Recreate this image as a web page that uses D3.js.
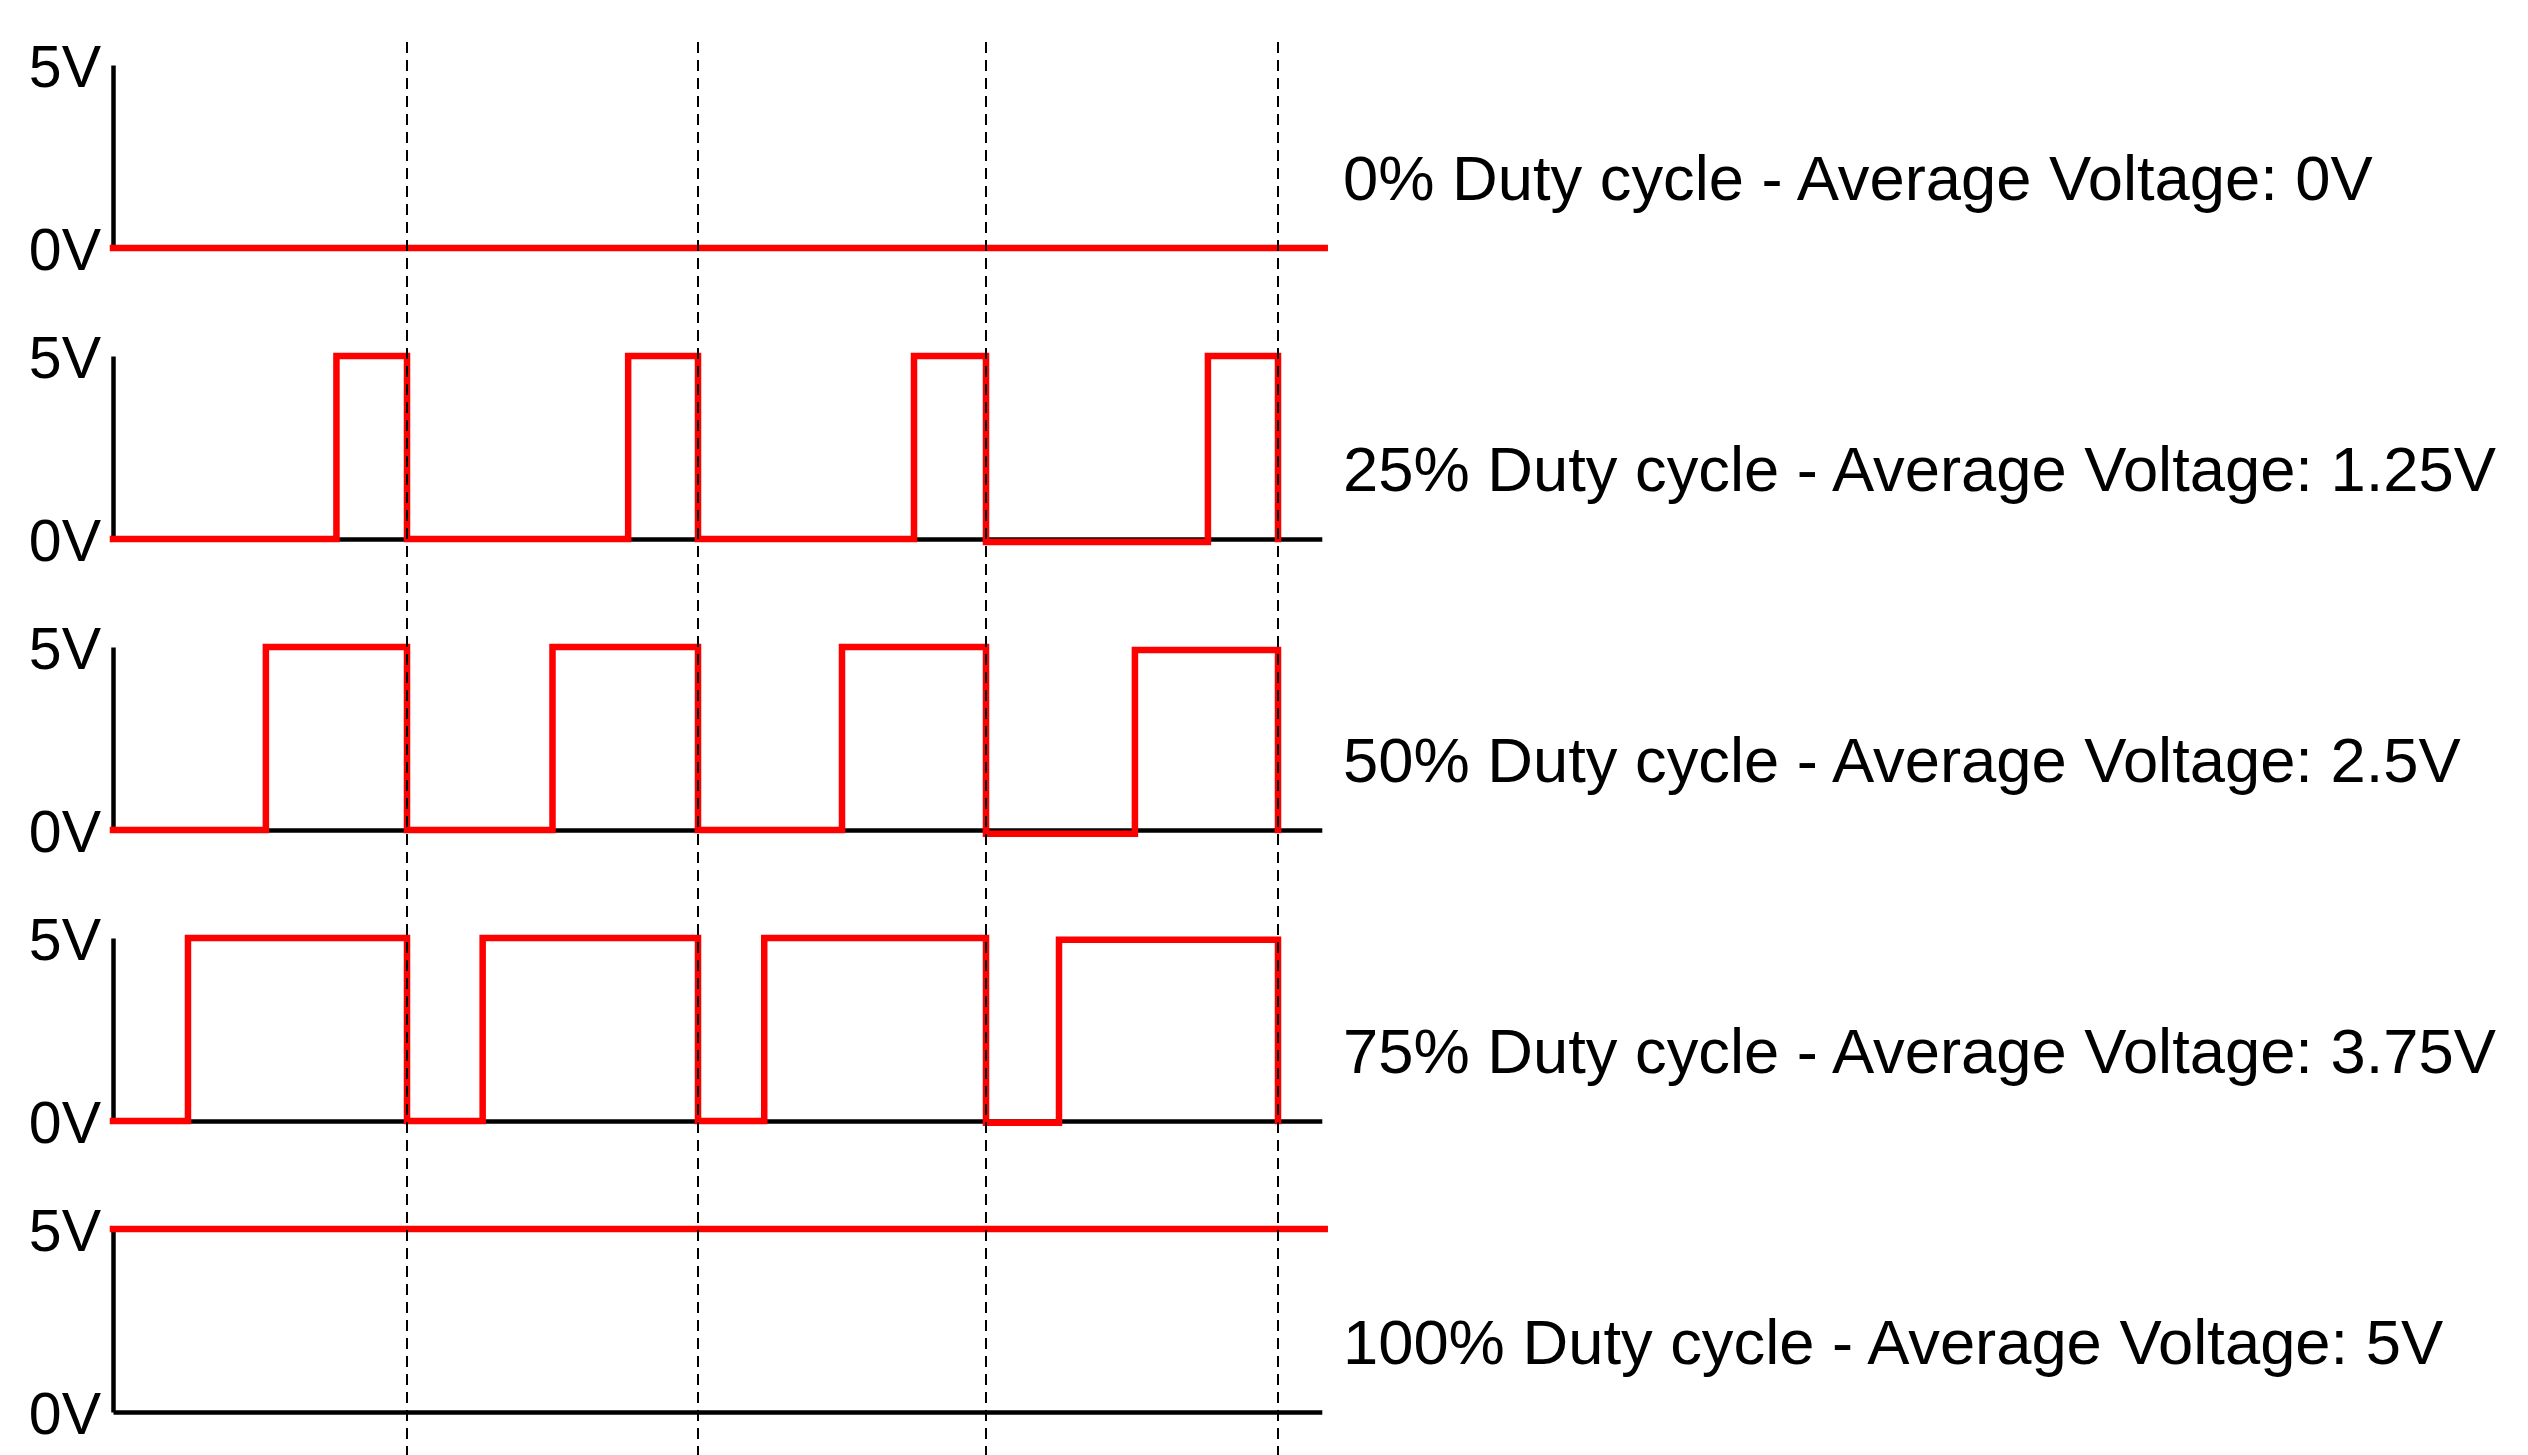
<!DOCTYPE html>
<html>
<head>
<meta charset="utf-8">
<script src="https://cdn.jsdelivr.net/npm/d3@7"></script>
<style>
  html, body { margin: 0; padding: 0; background: #ffffff; }
  svg { display: block; }
</style>
</head>
<body>
<svg id="chart" width="2528" height="1455"></svg>
<script>
// ---------------- data ----------------
const dutyCycles = [0, 25, 50, 75, 100];
const panelLabels = [
  "0% Duty cycle - Average Voltage: 0V",
  "25% Duty cycle - Average Voltage: 1.25V",
  "50% Duty cycle - Average Voltage: 2.5V",
  "75% Duty cycle - Average Voltage: 3.75V",
  "100% Duty cycle - Average Voltage: 5V"
];
const voltageTicks = [0, 5];
const periodMarks = [1, 2, 3, 4];           // period boundaries (dashed lines)
const periodBounds = [0, 1, 2, 3, 4];
const baselineEnd = 4.15;                    // where the 0V axis line stops
// waveform vertices [time (periods), volts]; each value holds until the next vertex
const wave0 = [[0, 0], [4.16, 0]];
const wave25 = [[0, 0], [0.76, 5], [1, 0], [1.76, 5], [2, 0], [2.75, 5], [3, -0.08], [3.76, 5], [4, 0]];
const wave50 = [[0, 0], [0.52, 5], [1, 0], [1.50, 5], [2, 0], [2.50, 5], [3, -0.1], [3.51, 4.92], [4, 0]];
const wave75 = [[0, 0], [0.255, 5], [1, 0], [1.26, 5], [2, 0], [2.23, 5], [3, -0.05], [3.25, 4.95], [4, 0]];
const wave100 = [[0, 5], [4.16, 5]];
const waves = [wave0, wave25, wave50, wave75, wave100];

// ---------------- layout ----------------
const svg = d3.select("#chart");
const FONT = "'Liberation Sans', Arial, Helvetica, sans-serif";
// hand-drawn period widths differ slightly: piecewise-linear time scale
const x = d3.scaleLinear().domain(periodBounds).range([113, 407, 698, 986, 1278]).clamp(false);
const firstBaseline = 248, panelStep = 291, panelHeight = 183;

const rows = dutyCycles.map((d, i) => {
  const base = firstBaseline + i * panelStep;
  return {
    duty: d, label: panelLabels[i], wave: waves[i],
    y: d3.scaleLinear().domain([0, 5]).range([base, base - panelHeight])
  };
});

// axes (vertical 0-5V axis and the 0V baseline)
rows.forEach(r => {
  const g = svg.append("g");
  const yAxis = d3.axisLeft(r.y).tickValues(voltageTicks)
    .tickFormat(v => v + "V").tickSize(0).tickPadding(12);
  const ya = g.append("g").attr("transform", `translate(${x(0)},0)`).call(yAxis);
  ya.select(".domain").attr("stroke", "#000").attr("stroke-width", 4.5);
  ya.selectAll("text").attr("font-family", FONT).attr("font-size", 59)
    .attr("fill", "#000").attr("dy", "0.37em");

  const xb = d3.scaleLinear().domain([0, baselineEnd]).range([x(0), x(baselineEnd)]);
  const xAxis = d3.axisBottom(xb).tickValues([]).tickSizeOuter(0);
  const xa = g.append("g").attr("transform", `translate(0,${r.y(0)})`).call(xAxis);
  xa.select(".domain").attr("stroke", "#000").attr("stroke-width", 4.5);
});

// red PWM waveforms
const line = d3.line().x(d => x(d[0])).curve(d3.curveStepAfter);
rows.forEach(r => {
  svg.append("path")
    .datum(r.wave)
    .attr("d", line.y(d => r.y(d[1])))
    .attr("fill", "none")
    .attr("stroke", "#ff0000")
    .attr("stroke-width", 6.5)
    .attr("stroke-linejoin", "miter")
    .attr("stroke-linecap", "square");
});

// dashed period lines
svg.append("g").selectAll("line").data(periodMarks).join("line")
  .attr("x1", d => x(d)).attr("x2", d => x(d))
  .attr("y1", 42).attr("y2", 1455)
  .attr("stroke", "#000").attr("stroke-width", 2)
  .attr("stroke-dasharray", "11,7");

// right-hand descriptions
svg.append("g").selectAll("text").data(rows).join("text")
  .attr("x", 1343)
  .attr("y", d => d.y(0) - 48)
  .attr("font-family", FONT)
  .attr("font-size", 63.3)
  .attr("fill", "#000")
  .text(d => d.label);
</script>
</body>
</html>
